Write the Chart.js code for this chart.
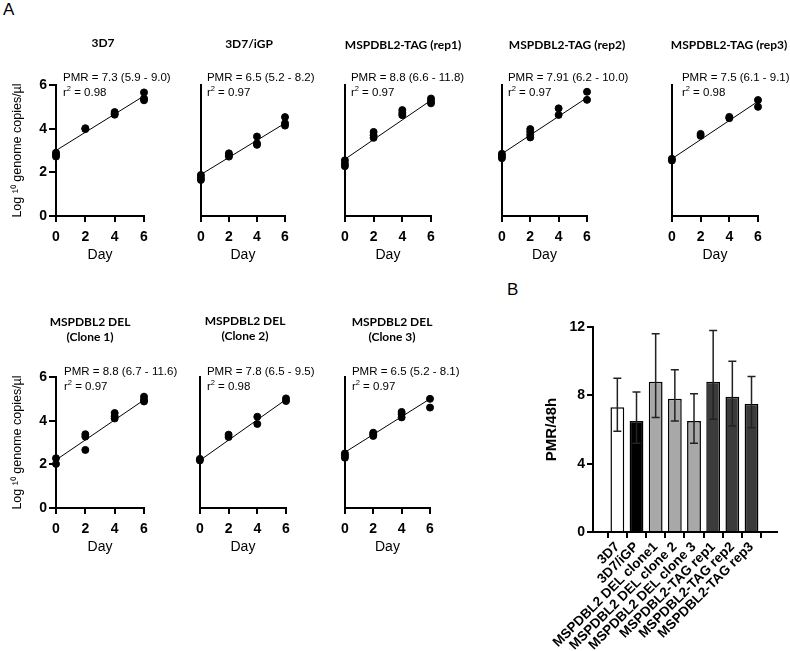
<!DOCTYPE html>
<html>
<head>
<meta charset="utf-8">
<script src="https://cdn.jsdelivr.net/npm/chart.js@4.4.1/dist/chart.umd.min.js"></script>
<style>
  body { margin: 0; background: #fff; }
  #page { position: relative; width: 790px; height: 651px; overflow: hidden; font-family: "Liberation Sans", Arial, sans-serif; }
  canvas { position: absolute; }
  .tag { position: absolute; font-size: 17px; color: #000; }
</style>
</head>
<body>
<div id="page">
  <div class="tag" style="left:3px; top:0px;">A</div>
  <div class="tag" style="left:507px; top:280px;">B</div>
</div>
<script>
// growth curves: log10 genome copies per day, one inner list per day
const days = [0, 2, 4, 6];

const panelTitles = [
  ["3D7"], ["3D7/iGP"], ["MSPDBL2-TAG (rep1)"], ["MSPDBL2-TAG (rep2)"], ["MSPDBL2-TAG (rep3)"],
  ["MSPDBL2 DEL", "(Clone 1)"], ["MSPDBL2 DEL", "(Clone 2)"], ["MSPDBL2 DEL", "(Clone 3)"]
];
const pmrText = [
  "PMR = 7.3 (5.9 - 9.0)", "PMR = 6.5 (5.2 - 8.2)", "PMR = 8.8 (6.6 - 11.8)", "PMR = 7.91 (6.2 - 10.0)",
  "PMR = 7.5 (6.1 - 9.1)", "PMR = 8.8 (6.7 - 11.6)", "PMR = 7.8 (6.5 - 9.5)", "PMR = 6.5 (5.2 - 8.1)"
];
const r2Text = ["0.98", "0.97", "0.97", "0.97", "0.98", "0.97", "0.98", "0.97"];

const log3D7 = [[2.9, 2.8, 2.72], [4.02, 3.98], [4.76, 4.68, 4.64], [5.66, 5.38, 5.3]];
const logIGP = [[1.88, 1.75, 1.65], [2.87, 2.78, 2.72], [3.64, 3.33, 3.26], [4.53, 4.25, 4.14]];
const logTag1 = [[2.55, 2.4, 2.28], [3.85, 3.7, 3.58], [4.85, 4.72, 4.62], [5.38, 5.26, 5.16]];
const logTag2 = [[2.85, 2.75, 2.65], [3.98, 3.86, 3.72, 3.6], [4.93, 4.63], [5.69, 5.32]];
const logTag3 = [[2.62, 2.54], [3.76, 3.67], [4.54, 4.48], [5.31, 5.0]];
const logDel1 = [[2.28, 2.02], [3.38, 3.27, 2.66], [4.35, 4.2, 4.1], [5.1, 4.95, 4.88]];
const logDel2 = [[2.25, 2.18], [3.36, 3.25], [4.18, 3.85], [5.02, 4.9]];
const logDel3 = [[2.5, 2.4, 2.3], [3.45, 3.38, 3.3], [4.4, 4.3, 4.15], [5.0, 4.6]];
const panelValues = [log3D7, logIGP, logTag1, logTag2, logTag3, logDel1, logDel2, logDel3];

// regression line read at day 0 and day 6
const fitStart = [3.0, 1.9, 2.6, 2.85, 2.62, 2.2, 2.18, 2.55];
const fitEnd = [5.5, 4.25, 5.3, 5.42, 5.25, 4.95, 4.97, 5.0];

// panel B
const strains = ["3D7", "3D7/iGP", "MSPDBL2 DEL clone1", "MSPDBL2 DEL clone 2", "MSPDBL2 DEL clone 3",
  "MSPDBL2-TAG rep1", "MSPDBL2-TAG rep2", "MSPDBL2-TAG rep3"];
const pmr = [7.3, 6.5, 8.8, 7.8, 6.5, 8.8, 7.91, 7.5];
const pmrLow = [5.9, 5.2, 6.7, 6.5, 5.2, 6.6, 6.2, 6.1];
const pmrHigh = [9.0, 8.2, 11.6, 9.5, 8.1, 11.8, 10.0, 9.1];
const pmrTicks = [0, 4, 8, 12];

Chart.defaults.font.family = '"Liberation Sans", Arial, sans-serif';
Chart.defaults.color = "#000";

// where each small chart area sits on the page
const boxes = [
  { x0: 56, x1: 144, row: 0, axis: true, titleX: 103, titleY: 43, dx: 7 },
  { x0: 198, x1: 285, row: 0, titleX: 249, titleY: 44, dx: 6 },
  { x0: 342, x1: 431, row: 0, titleX: 403, titleY: 45, dx: 6 },
  { x0: 499, x1: 587, row: 0, titleX: 567, titleY: 45, dx: 6 },
  { x0: 669, x1: 758, row: 0, titleX: 729, titleY: 45, dx: 10 },
  { x0: 56, x1: 144, row: 1, axis: true, titleX: 90, titleY: 322, dx: 8 },
  { x0: 197, x1: 286, row: 1, titleX: 245, titleY: 321, dx: 7 },
  { x0: 342, x1: 430, row: 1, titleX: 392, titleY: 322, dx: 7 }
];
const rows = [{ top: 30, areaTop: 85, areaBottom: 216 }, { top: 300, areaTop: 377, areaBottom: 508 }];
const X_AXIS_H = 50;

const page = document.getElementById("page");

function addCanvas(left, top, w, h) {
  const c = document.createElement("canvas");
  c.width = w;
  c.height = h;
  c.style.left = left + "px";
  c.style.top = top + "px";
  page.appendChild(c);
  return c;
}

function panelLabels(i, box, left, top) {
  return {
    id: "panelLabels",
    afterDraw(chart) {
      const { ctx, chartArea } = chart;
      ctx.save();
      ctx.fillStyle = "#000";
      ctx.textBaseline = "middle";
      ctx.textAlign = "center";
      ctx.font = "bold 12px Lato";
      panelTitles[i].forEach((line, k) => ctx.fillText(line, box.titleX - left, box.titleY - top + k * 15.5));

      ctx.textAlign = "left";
      const x = chartArea.left + box.dx;
      const yP = chartArea.top - (box.row ? 5.5 : 7.5);
      const yR = chartArea.top + (box.row ? 9.5 : 8);
      ctx.font = '11.5px "Liberation Sans"';
      ctx.fillText(pmrText[i], x, yP);
      ctx.fillText("r", x, yR);
      const rw = ctx.measureText("r").width;
      ctx.font = '7.5px "Liberation Sans"';
      ctx.fillText("2", x + rw, yR - 4);
      const sw = ctx.measureText("2").width;
      ctx.font = '11.5px "Liberation Sans"';
      ctx.fillText(" = " + r2Text[i], x + rw + sw, yR);
      ctx.restore();
    }
  };
}

function growthPanel(i) {
  const box = boxes[i];
  const row = rows[box.row];
  const left = box.axis ? 0 : box.x0 - 8;
  const right = i === 4 ? 790 : box.x1 + 50;
  const h = row.areaBottom + X_AXIS_H - row.top;
  const canvas = addCanvas(left, row.top, right - left, h);

  const points = panelValues[i].flatMap((ys, k) => ys.map(y => ({ x: days[k], y })));
  const fit = [{ x: days[0], y: fitStart[i] }, { x: days[days.length - 1], y: fitEnd[i] }];

  const yScale = box.axis ? {
    min: 0, max: 6,
    ticks: { stepSize: 2, padding: 2, font: { size: 14, weight: "bold" } },
    grid: { drawOnChartArea: false, tickLength: 7, color: "#000", lineWidth: 2 },
    border: { color: "#000", width: 2 },
    title: { display: true, text: "Log ¹⁰ genome copies/µl", font: { size: 12.5 }, padding: { top: 10, bottom: 0 } },
    afterFit: s => { s.width = box.x0 - left; }
  } : {
    min: 0, max: 6,
    ticks: { display: false },
    grid: { display: false },
    border: { color: "#000", width: 2 },
    afterFit: s => { s.width = 0; }
  };

  new Chart(canvas, {
    type: "scatter",
    data: {
      datasets: [
        { data: points, pointRadius: 3.5, pointBackgroundColor: "#000", pointBorderColor: "#000", clip: false },
        { data: fit, showLine: true, borderColor: "#000", borderWidth: 1, pointRadius: 0, clip: false }
      ]
    },
    options: {
      responsive: false,
      animation: false,
      devicePixelRatio: 1,
      layout: { padding: { top: row.areaTop - row.top, left: box.axis ? 0 : 8, right: right - box.x1, bottom: 0 } },
      plugins: { legend: { display: false }, tooltip: { enabled: false } },
      scales: {
        x: {
          type: "linear", min: 0, max: 6,
          ticks: { stepSize: 2, padding: 7, font: { size: 14, weight: "bold" } },
          grid: { drawOnChartArea: false, tickLength: 6, color: "#000", lineWidth: 2 },
          border: { color: "#000", width: 2 },
          title: { display: true, text: "Day", font: { size: 14 }, padding: { top: 0, bottom: 2 } },
          afterFit: s => { s.height = X_AXIS_H; }
        },
        y: yScale
      }
    },
    plugins: [panelLabels(i, box, left, row.top)]
  });
}

for (let i = 0; i < boxes.length; i++) growthPanel(i);

// panel B: bars with 95% CI whiskers
const barColors = ["#ffffff", "#000000", "#a8a8a8", "#a8a8a8", "#a8a8a8", "#3b3b3b", "#3b3b3b", "#3b3b3b"];

const errorBars = {
  id: "errorBars",
  afterDatasetsDraw(chart) {
    const { ctx, scales: { x, y } } = chart;
    ctx.save();
    ctx.strokeStyle = "#222";
    ctx.lineWidth = 1.5;
    pmr.forEach((v, i) => {
      const px = x.getPixelForValue(i);
      const lo = y.getPixelForValue(pmrLow[i]);
      const hi = y.getPixelForValue(pmrHigh[i]);
      ctx.beginPath();
      ctx.moveTo(px, lo); ctx.lineTo(px, hi);
      ctx.moveTo(px - 4, lo); ctx.lineTo(px + 4, lo);
      ctx.moveTo(px - 4, hi); ctx.lineTo(px + 4, hi);
      ctx.stroke();
    });
    ctx.restore();
  }
};

const barCanvas = addCanvas(490, 300, 300, 351);
new Chart(barCanvas, {
  type: "bar",
  data: {
    datasets: [{
      data: strains.map((s, i) => ({ x: i, y: pmr[i] })),
      backgroundColor: barColors,
      borderColor: "#000",
      borderWidth: 1.5
    }]
  },
  options: {
    responsive: false,
    animation: false,
    devicePixelRatio: 1,
    layout: { padding: { top: 27, left: 50, right: 13, bottom: 0 } },
    plugins: { legend: { display: false }, tooltip: { enabled: false } },
    scales: {
      x: {
        type: "linear", min: -0.67, max: 7.73,
        afterBuildTicks: s => { s.ticks = strains.map((n, i) => ({ value: i })); },
        ticks: {
          autoSkip: false, minRotation: 45, maxRotation: 45, padding: 1,
          font: { size: 13.5, weight: "bold" },
          callback: v => strains[v]
        },
        grid: { drawOnChartArea: false, tickLength: 6, color: "#000", lineWidth: 2 },
        border: { color: "#000", width: 2 },
        afterFit: s => { s.height = 119; }
      },
      y: {
        min: 0, max: 12,
        afterBuildTicks: s => { s.ticks = pmrTicks.map(v => ({ value: v })); },
        ticks: { padding: 2, font: { size: 14, weight: "bold" } },
        grid: { drawOnChartArea: false, tickLength: 6, color: "#000", lineWidth: 2 },
        border: { color: "#000", width: 2 },
        title: { display: true, text: "PMR/48h", font: { size: 15, weight: "bold" }, padding: { top: 3, bottom: 0 } },
        afterFit: s => { s.width = 53; }
      }
    }
  },
  plugins: [errorBars]
});
</script>
</body>
</html>
